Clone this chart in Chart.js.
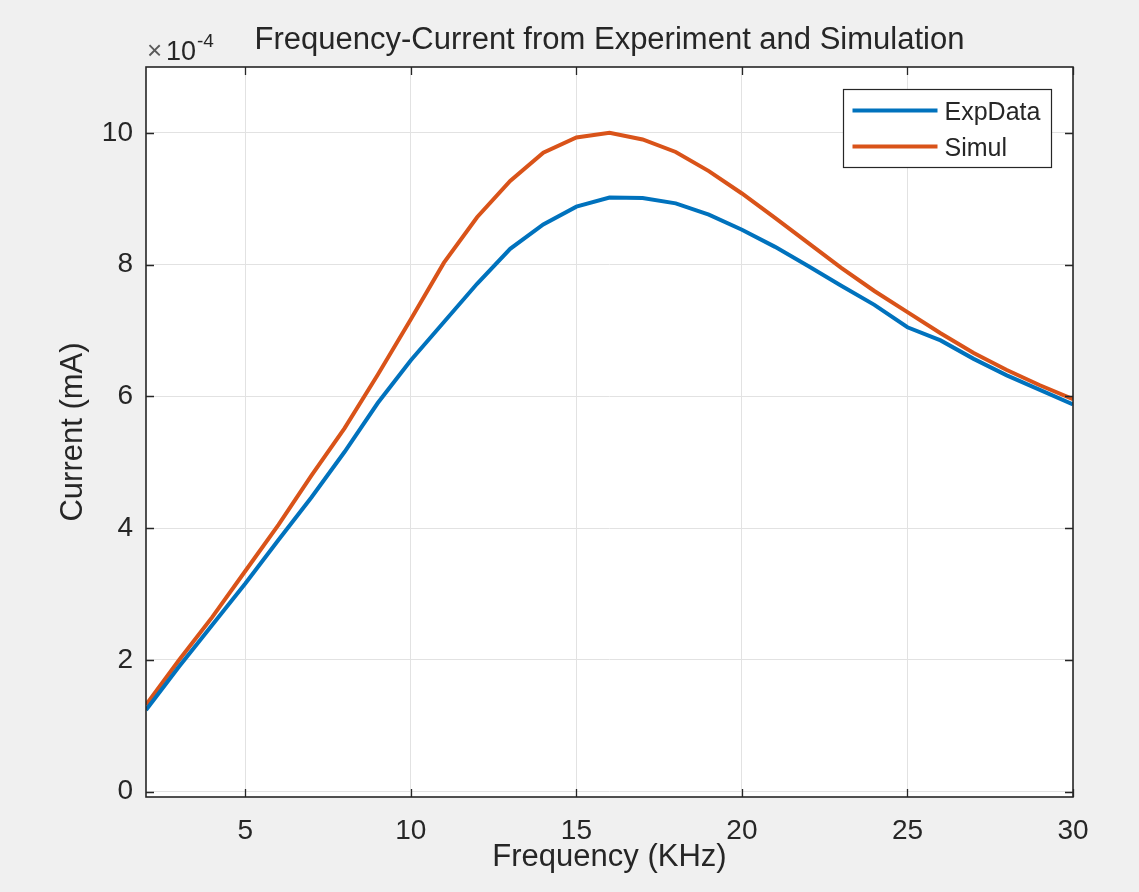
<!DOCTYPE html>
<html>
<head>
<meta charset="utf-8">
<script src="https://cdn.jsdelivr.net/npm/chart.js@4/dist/chart.umd.min.js"></script>
<style>
  html, body { margin: 0; padding: 0; background: #f0f0f0; }
  canvas { display: block; }
</style>
</head>
<body>
<canvas id="c" width="1139" height="892"></canvas>
<script>
// ---- data (current values in units of 1e-4 mA) ----
const frequency = [2,3,4,5,6,7,8,9,10,11,12,13,14,15,16,17,18,19,20,21,22,23,24,25,26,27,28,29,30];
const expData = [1.24,1.90,2.53,3.16,3.82,4.47,5.16,5.90,6.55,7.13,7.71,8.24,8.61,8.88,9.02,9.01,8.93,8.76,8.53,8.27,7.98,7.68,7.39,7.05,6.85,6.57,6.32,6.10,5.88];
const simul = [1.32,2.00,2.65,3.35,4.05,4.80,5.52,6.33,7.17,8.03,8.72,9.27,9.70,9.93,10.00,9.90,9.71,9.42,9.08,8.71,8.33,7.95,7.60,7.28,6.96,6.66,6.40,6.17,5.96];
const xTicks = [5,10,15,20,25,30];
const yTicks = [0,2,4,6,8,10];
const exponentLabel = '-4';
const seriesLabels = ['ExpData','Simul'];

const FONT = '"Liberation Sans", Arial, Helvetica, sans-serif';
const TXT = '#262626';

const toPts = (xs, ys) => xs.map((x, i) => ({x, y: ys[i]}));

const matlabAxes = {
  id: 'matlabAxes',
  afterDatasetsDraw(chart) {
    const {ctx, chartArea: a, scales: {x, y}} = chart;
    ctx.save();
    const tl = 8;
    ctx.strokeStyle = TXT;
    ctx.lineWidth = 1.3;
    ctx.beginPath();
    xTicks.forEach(v => {
      const px = Math.round(x.getPixelForValue(v)) + 0.5;
      ctx.moveTo(px, a.bottom); ctx.lineTo(px, a.bottom - tl);
      ctx.moveTo(px, a.top); ctx.lineTo(px, a.top + tl);
    });
    yTicks.forEach(v => {
      const py = Math.round(y.getPixelForValue(v)) + 0.5;
      ctx.moveTo(a.left, py); ctx.lineTo(a.left + tl, py);
      ctx.moveTo(a.right, py); ctx.lineTo(a.right - tl, py);
    });
    ctx.stroke();
    ctx.lineWidth = 1.6;
    ctx.strokeRect(a.left, a.top, a.right - a.left, a.bottom - a.top);

    // exponent label
    ctx.textBaseline = 'alphabetic';
    ctx.textAlign = 'left';
    ctx.font = '26px ' + FONT;
    ctx.fillStyle = '#5a5a5a';
    ctx.fillText('\u00d7', a.left + 1, 59);
    ctx.fillStyle = TXT;
    ctx.font = '27px ' + FONT;
    ctx.fillText('10', a.left + 20, 60);
    ctx.font = '19px ' + FONT;
    ctx.fillText(exponentLabel, a.left + 51, 47);

    // legend
    const lw = 208, lh = 78;
    const lx = a.right - 22 - lw + 0.5, ly = a.top + 22 + 0.5;
    ctx.fillStyle = '#ffffff';
    ctx.fillRect(lx, ly, lw, lh);
    ctx.strokeStyle = TXT;
    ctx.lineWidth = 1.2;
    ctx.strokeRect(lx, ly, lw, lh);
    chart.data.datasets.forEach((ds, i) => {
      const yy = ly + 21 + i * 36;
      ctx.strokeStyle = ds.borderColor;
      ctx.lineWidth = 4;
      ctx.beginPath();
      ctx.moveTo(lx + 9, yy); ctx.lineTo(lx + 94, yy);
      ctx.stroke();
      ctx.fillStyle = TXT;
      ctx.font = '25px ' + FONT;
      ctx.textBaseline = 'middle';
      ctx.fillText(ds.label, lx + 101, yy + 3);
    });
    ctx.restore();
  }
};

const bgPlugin = {
  id: 'bg',
  beforeDraw(chart) {
    const {ctx, chartArea: a} = chart;
    ctx.save();
    ctx.fillStyle = '#f0f0f0';
    ctx.fillRect(0, 0, chart.width, chart.height);
    ctx.fillStyle = '#ffffff';
    ctx.fillRect(a.left, a.top, a.right - a.left, a.bottom - a.top);
    ctx.restore();
  }
};

new Chart(document.getElementById('c'), {
  type: 'line',
  data: {
    datasets: [
      { label: seriesLabels[0], data: toPts(frequency, expData), borderColor: '#0072BD', backgroundColor: '#0072BD', borderWidth: 4, pointRadius: 0, tension: 0, fill: false },
      { label: seriesLabels[1], data: toPts(frequency, simul), borderColor: '#D95319', backgroundColor: '#D95319', borderWidth: 4, pointRadius: 0, tension: 0, fill: false }
    ]
  },
  options: {
    responsive: false,
    animation: false,
    layout: { padding: { left: 0, right: 66, top: 0, bottom: 0 } },
    plugins: {
      legend: { display: false },
      tooltip: { enabled: false },
      title: {
        display: true,
        fullSize: false,
        text: 'Frequency-Current from Experiment and Simulation',
        color: TXT,
        font: { family: FONT, size: 31, weight: 'normal', lineHeight: 1.2 },
        padding: { top: 21.4, bottom: 8.4 }
      }
    },
    scales: {
      x: {
        type: 'linear',
        min: 2, max: 30,
        afterBuildTicks: s => { s.ticks = xTicks.map(v => ({value: v})); },
        afterFit: s => { s.height = 95; },
        grid: { color: '#e2e2e2', lineWidth: 1, drawTicks: false },
        border: { display: false },
        ticks: { color: TXT, font: { family: FONT, size: 28 }, padding: 17, maxRotation: 0 },
        title: { display: true, text: 'Frequency (KHz)', color: TXT, font: { family: FONT, size: 31, lineHeight: 1.2 }, padding: { top: 0, bottom: 16.4 } }
      },
      y: {
        type: 'linear',
        min: -0.08, max: 11,
        afterBuildTicks: s => { s.ticks = yTicks.map(v => ({value: v})); },
        afterFit: s => { s.width = 146; },
        grid: { color: '#e2e2e2', lineWidth: 1, drawTicks: false },
        border: { display: false },
        ticks: { color: TXT, font: { family: FONT, size: 28 }, padding: 13 },
        title: { display: true, text: 'Current (mA)', color: TXT, font: { family: FONT, size: 31, lineHeight: 1.2 }, padding: { top: 55, bottom: 0 } }
      }
    }
  },
  plugins: [bgPlugin, matlabAxes]
});
</script>
</body>
</html>
